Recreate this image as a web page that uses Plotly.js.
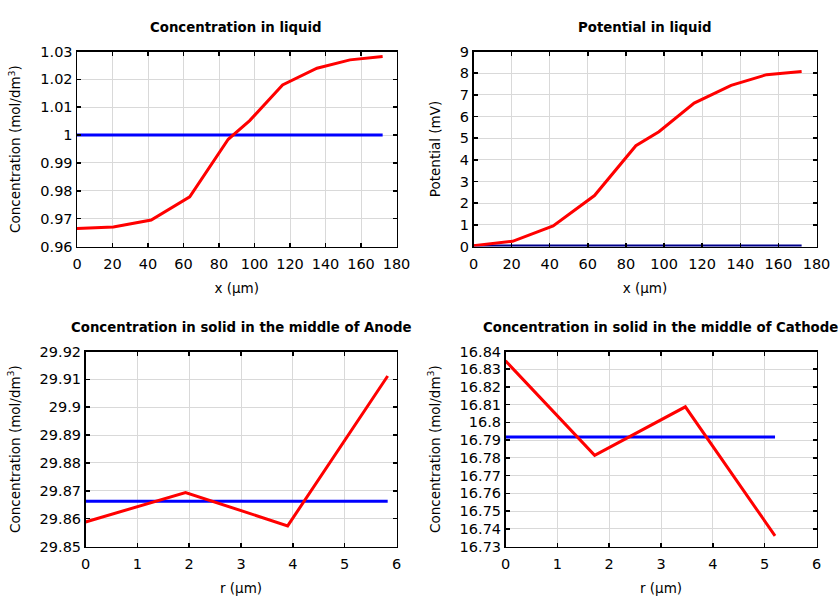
<!DOCTYPE html>
<html>
<head>
<meta charset="utf-8">
<script src="https://cdn.plot.ly/plotly-3.0.1.min.js"></script>
<style>html,body{margin:0;padding:0;background:#fff}#chart{width:840px;height:600px}</style>
</head>
<body>
<div id="chart"></div>
<script>
// Liquid-phase profiles along x (µm)
const xLiquid = [0, 20.5, 41.8, 63.5, 85.2, 97.3, 115.8, 135.2, 153.8, 172.2];
const concLiquid = [0.9665, 0.9670, 0.9695, 0.9778, 0.9985, 1.0052, 1.0180, 1.0240, 1.0270, 1.0282];
const concLiquidInit = [1.0, 1.0];
const concLiquidInitX = [0, 172.2];
const potLiquid = [0.04, 0.24, 0.95, 2.35, 4.65, 5.3, 6.62, 7.44, 7.93, 8.08];
const potLiquidInit = [0, 0];

// Solid-phase profiles along r (µm)
const rAnode = [0, 1.93, 3.9, 5.83];
const concAnode = [29.8588, 29.8694, 29.8574, 29.9112];
const concAnodeInit = [29.8662, 29.8662];
const rAnodeInit = [0, 5.83];

const rCathode = [0, 1.72, 3.47, 5.2];
const concCathode = [16.8347, 16.7814, 16.8088, 16.7360];
const concCathodeInit = [16.7918, 16.7918];
const rCathodeInit = [0, 5.2];

const titles = [
  'Concentration in liquid',
  'Potential in liquid',
  'Concentration in solid in the middle of Anode',
  'Concentration in solid in the middle of Cathode'
];
const concLabel = 'Concentration (mol/dm<sup>3</sup>)';

const RED = '#ff0000', BLUE = '#0000ff';
const fontFam = 'DejaVu Sans, sans-serif';

const traces = [
  {x: concLiquidInitX, y: concLiquidInit, xaxis: 'x', yaxis: 'y', line: {color: BLUE, width: 3}},
  {x: xLiquid, y: concLiquid, xaxis: 'x', yaxis: 'y', line: {color: RED, width: 3}},
  {x: concLiquidInitX, y: potLiquidInit, xaxis: 'x2', yaxis: 'y2', line: {color: '#00008b', width: 4}},
  {x: xLiquid, y: potLiquid, xaxis: 'x2', yaxis: 'y2', line: {color: RED, width: 3}},
  {x: rAnodeInit, y: concAnodeInit, xaxis: 'x3', yaxis: 'y3', line: {color: BLUE, width: 3}},
  {x: rAnode, y: concAnode, xaxis: 'x3', yaxis: 'y3', line: {color: RED, width: 3}},
  {x: rCathodeInit, y: concCathodeInit, xaxis: 'x4', yaxis: 'y4', line: {color: BLUE, width: 3}},
  {x: rCathode, y: concCathode, xaxis: 'x4', yaxis: 'y4', line: {color: RED, width: 3}}
].map(t => Object.assign({type: 'scatter', mode: 'lines', showlegend: false, hoverinfo: 'skip'}, t));

function ax(extra) {
  return Object.assign({
    showline: true, linecolor: '#000', linewidth: 1.5, mirror: 'ticks',
    ticks: 'inside', ticklen: 4, tickcolor: '#000', tickwidth: 1.5,
    showgrid: true, gridcolor: '#d9d9d9', gridwidth: 1, zeroline: false,
    tickfont: {family: fontFam, size: 14.5, color: '#000'},
    fixedrange: true, layer: 'above traces'
  }, extra);
}
function xax(extra) { return ax(Object.assign({ticklabelstandoff: 4}, extra)); }
function xt(t) { return {text: t, font: {family: fontFam, size: 13.5, color: '#000'}, standoff: 12}; }
function yt(t) { return {text: t, font: {family: fontFam, size: 13.5, color: '#000'}, standoff: 16}; }

const yTop = [1 - 246.5/600, 1 - 51.5/600];
const yBot = [1 - 546.5/600, 1 - 351.5/600];

const layout = {
  width: 840, height: 600,
  margin: {l: 0, r: 0, t: 0, b: 0},
  paper_bgcolor: '#fff', plot_bgcolor: '#fff',
  font: {family: fontFam, color: '#000'},
  xaxis: xax({domain: [77/840, 396.5/840], anchor: 'y', range: [0, 180], dtick: 20, title: xt('x (µm)')}),
  yaxis: ax({domain: yTop, anchor: 'x', range: [0.96, 1.03], dtick: 0.01, title: yt(concLabel)}),
  xaxis2: xax({domain: [473.5/840, 816.5/840], anchor: 'y2', range: [0, 180], dtick: 20, title: xt('x (µm)')}),
  yaxis2: ax({domain: yTop, anchor: 'x2', range: [0, 9], dtick: 1, title: yt('Potential (mV)')}),
  xaxis3: xax({domain: [85.5/840, 396.5/840], anchor: 'y3', range: [0, 6], dtick: 1, title: xt('r (µm)')}),
  yaxis3: ax({domain: yBot, anchor: 'x3', range: [29.85, 29.92], dtick: 0.01, title: yt(concLabel)}),
  xaxis4: xax({domain: [505.5/840, 816.5/840], anchor: 'y4', range: [0, 6], dtick: 1, title: xt('r (µm)')}),
  yaxis4: ax({domain: yBot, anchor: 'x4', range: [16.73, 16.84], dtick: 0.01, title: yt(concLabel)}),
  annotations: [
    {text: '<b>' + titles[0] + '</b>', x: 236/840, y: 1 - 27/600},
    {text: '<b>' + titles[1] + '</b>', x: 645/840, y: 1 - 27/600},
    {text: '<b>' + titles[2] + '</b>', x: 241/840, y: 1 - 327/600},
    {text: '<b>' + titles[3] + '</b>', x: 660/840, y: 1 - 327/600}
  ].map(a => Object.assign({xref: 'paper', yref: 'paper', xanchor: 'center', yanchor: 'middle', showarrow: false,
    font: {family: fontFam, size: 13.3, color: '#000'}}, a))
};

Plotly.newPlot('chart', traces, layout, {staticPlot: true, displayModeBar: false});
</script>
</body>
</html>
